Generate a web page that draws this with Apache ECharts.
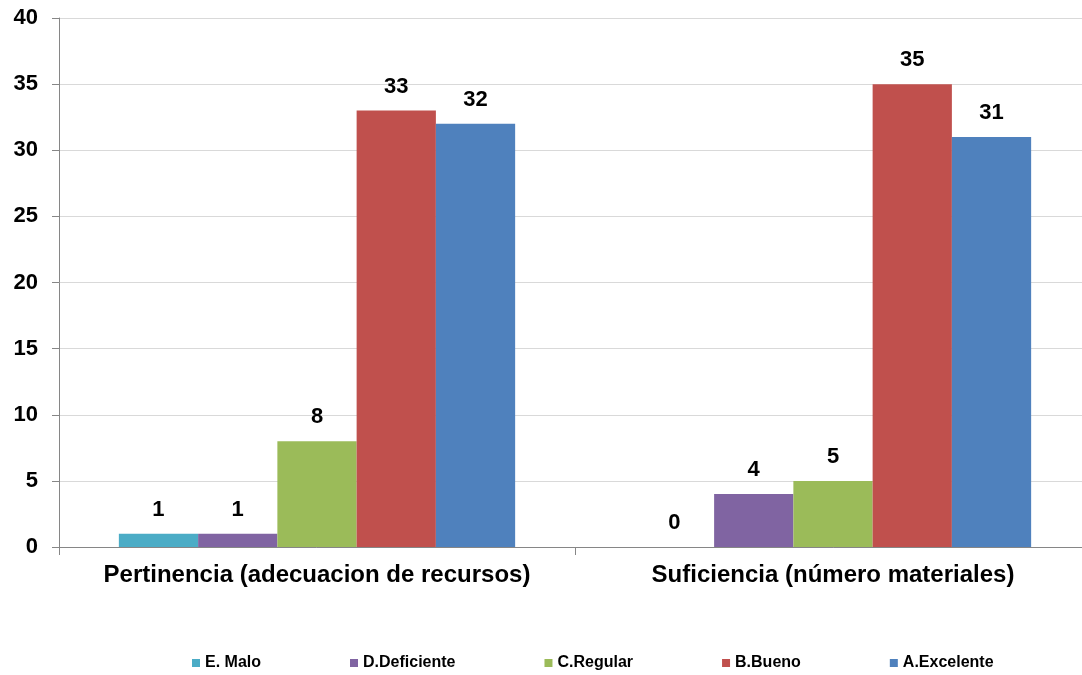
<!DOCTYPE html>
<html>
<head>
<meta charset="utf-8">
<script src="https://cdn.jsdelivr.net/npm/echarts@6/dist/echarts.min.js"></script>
<style>
html,body{margin:0;padding:0;background:#fff;overflow:hidden;width:1082px;height:675px;}
#c{width:1091px;height:675px;}
</style>
</head>
<body>
<div id="c"></div>
<script>
const categories = ["Pertinencia (adecuacion de recursos)", "Suficiencia (número materiales)"];
const seriesNames = ["E. Malo", "D.Deficiente", "C.Regular", "B.Bueno", "A.Excelente"];
const malo = [1, 0];
const deficiente = [1, 4];
const regular = [8, 5];
const bueno = [33, 35];
const excelente = [32, 31];
const seriesColors = ["#4BACC6", "#8064A2", "#9BBB59", "#C0504D", "#4F81BD"];
const seriesValues = [malo, deficiente, regular, bueno, excelente];

const FONT = '"Liberation Sans", Arial, sans-serif';

const chart = echarts.init(document.getElementById('c'), null, {renderer: 'canvas'});
chart.setOption({
  backgroundColor: '#ffffff',
  animation: false,
  textStyle: {fontFamily: FONT},
  grid: {left: 59, right: 0, top: 18, bottom: 128, containLabel: false},
  legend: {
    left: 187,
    top: 650,
    itemWidth: 8,
    itemHeight: 8,
    itemGap: 89,
    icon: 'rect',
    textStyle: {fontFamily: FONT, fontSize: 16, fontWeight: 'bold', color: '#000'},
    data: seriesNames
  },
  xAxis: {
    type: 'category',
    data: categories,
    axisLine: {lineStyle: {color: '#868686', width: 1}},
    axisTick: {show: true, interval: 0, length: 8, lineStyle: {color: '#868686'}},
    axisLabel: {interval: 0, margin: 16, fontFamily: FONT, fontSize: 24, fontWeight: 'bold', color: '#000'}
  },
  yAxis: {
    type: 'value',
    min: 0, max: 40, interval: 5,
    axisLine: {show: true, lineStyle: {color: '#868686', width: 1}},
    axisTick: {show: true, length: 7, lineStyle: {color: '#868686'}},
    axisLabel: {margin: 21, fontFamily: FONT, fontSize: 22, fontWeight: 'bold', color: '#000'},
    splitLine: {lineStyle: {color: '#d9d9d9', width: 1}}
  },
  series: seriesNames.map((n, i) => ({
    name: n,
    type: 'bar',
    data: seriesValues[i],
    barGap: '0%',
    barCategoryGap: '23.2%',
    itemStyle: {color: seriesColors[i]},
    label: {show: true, position: 'top', distance: 13, fontFamily: FONT, fontSize: 22, fontWeight: 'bold', color: '#000'}
  }))
});
</script>
</body>
</html>
